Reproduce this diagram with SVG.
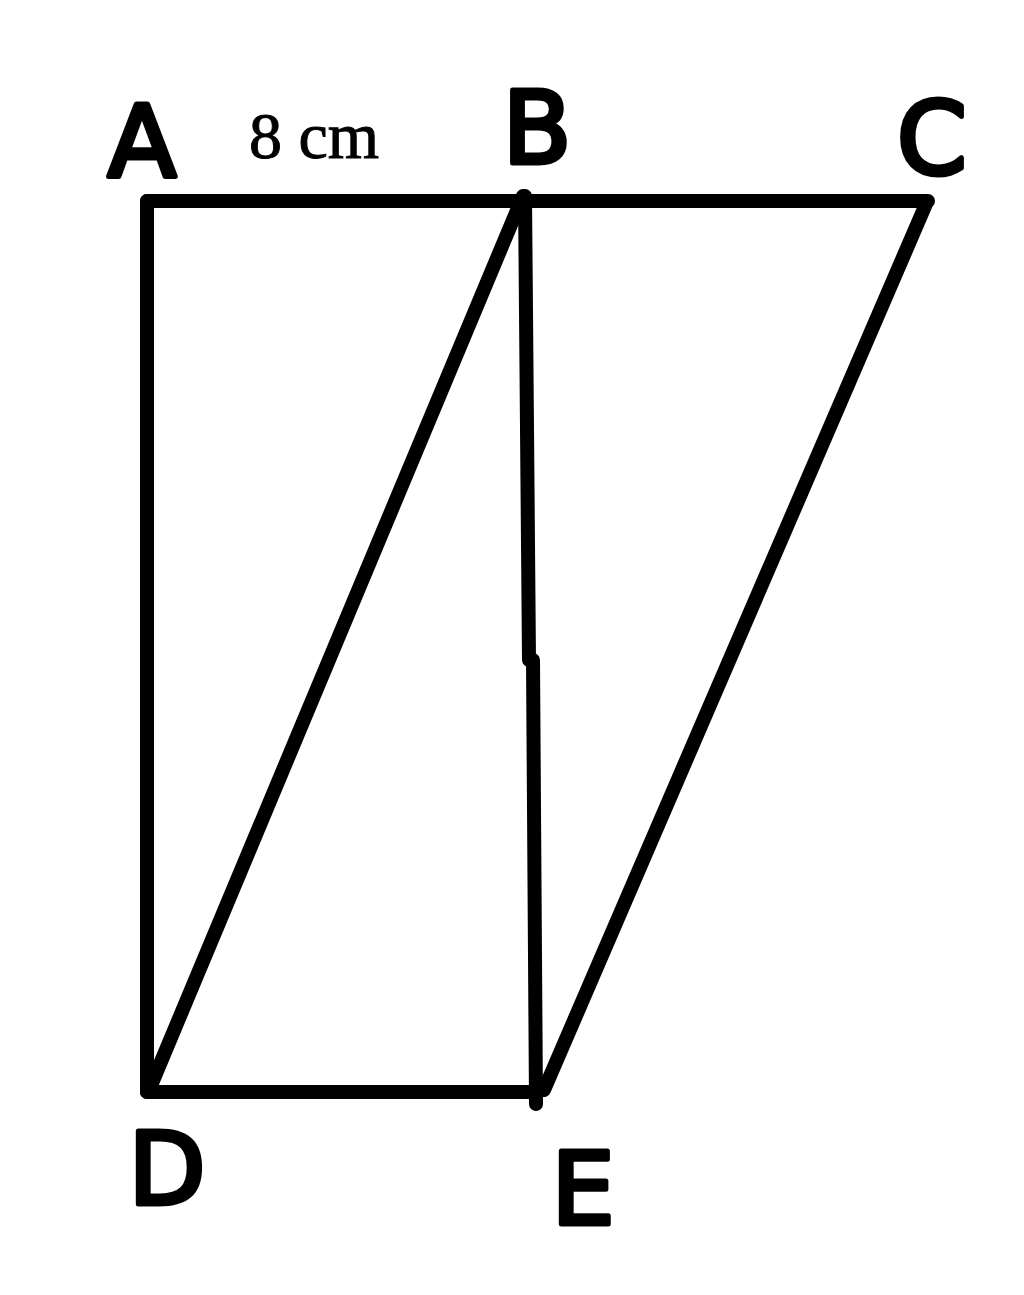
<svg xmlns="http://www.w3.org/2000/svg" width="1024" height="1295" viewBox="0 0 1024 1295">
<style>
.edge{stroke:#000;stroke-width:14;stroke-linecap:round;stroke-linejoin:round;fill:none}
.lbl{font-family:"DejaVu Sans",sans-serif;font-size:100px;fill:#000;stroke:#000;stroke-width:5;stroke-linejoin:round;text-anchor:middle}
.dim{font-family:"Liberation Serif",serif;font-size:66px;fill:#000;stroke:#000;stroke-width:1}
</style>
<rect width="1024" height="1295" fill="#fff"/>
<g id="connectors">
<line class="edge" x1="147" y1="201" x2="928" y2="201"/>
<line class="edge" x1="147" y1="201" x2="147" y2="1092"/>
<line class="edge" x1="147" y1="1092" x2="538" y2="1092"/>
<line class="edge" x1="523" y1="196" x2="150" y2="1088"/>
<polyline class="edge" points="525,196 529,660 533,660 536,1104"/>
<line class="edge" x1="926" y1="204" x2="544" y2="1090"/>
</g>
<g id="A"><text class="lbl" x="142" y="177">A</text></g>
<g id="B"><text class="lbl" x="537" y="163">B</text></g>
<g id="C"><text class="lbl" x="932" y="174">C</text></g>
<g id="D"><text class="lbl" x="167" y="1204">D</text></g>
<g id="E"><text class="lbl" x="583" y="1224">E</text></g>
<g id="dim"><text class="dim" x="249" y="158">8 cm</text></g>
</svg>
